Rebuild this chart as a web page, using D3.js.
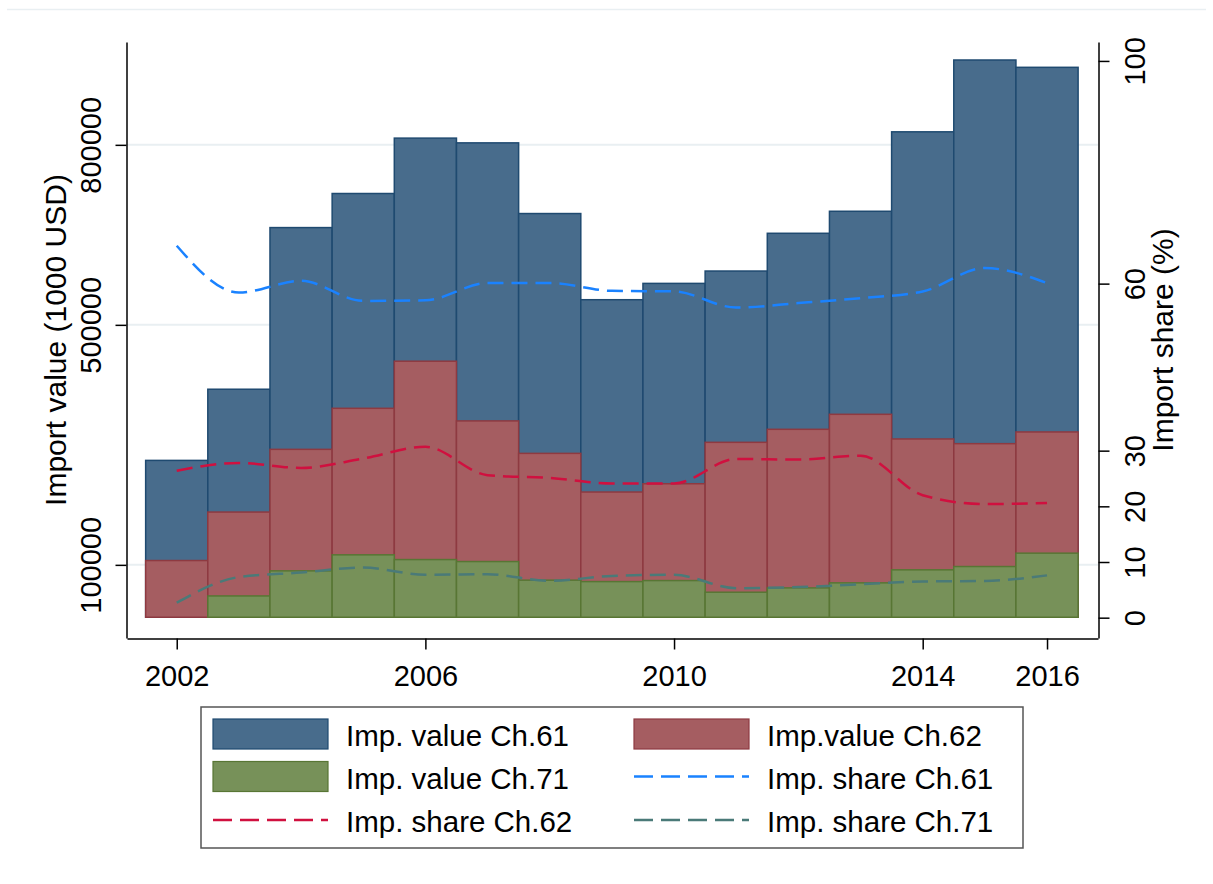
<!DOCTYPE html>
<html>
<head>
<meta charset="utf-8">
<script src="https://cdn.jsdelivr.net/npm/d3@7"></script>
<style>
  body { margin: 0; background: #ffffff; }
  svg text { font-family: "Liberation Sans", Arial, sans-serif; fill: #000000; }
</style>
</head>
<body>
<div id="chart"></div>
<script>

// Chart data
var years = [2002, 2003, 2004, 2005, 2006, 2007, 2008, 2009, 2010, 2011, 2012, 2013, 2014, 2015, 2016];

// Import values (1000 USD)
var valueCh61 = [274100, 392700, 662100, 718900, 811200, 803300, 685500, 541900, 569100, 589700, 652600, 689300, 821700, 941400, 929200];
var valueCh62 = [107200, 188000, 292500, 360900, 439400, 339900, 285800, 221400, 235200, 304200, 325900, 350900, 309800, 302000, 321500];
var valueCh71 = [11000, 48200, 90000, 116700, 108800, 105500, 74500, 72100, 73800, 54400, 61600, 70000, 91700, 97200, 119500];

// Import shares (%)
var shareCh61 = [66.8, 58.4, 60.5, 56.9, 57.0, 60.1, 60.1, 58.7, 58.6, 55.7, 56.5, 57.4, 58.6, 62.8, 60.1];
var shareCh62 = [26.4, 27.8, 26.9, 28.6, 30.7, 25.6, 25.1, 24.1, 24.1, 28.5, 28.4, 29.1, 22.0, 20.4, 20.6];
var shareCh71 = [2.7, 7.3, 8.1, 9.0, 7.7, 7.8, 6.6, 7.5, 7.7, 5.3, 5.5, 6.0, 6.5, 6.6, 7.6];

// Tick values
var yearTicks = [2002, 2006, 2010, 2014, 2016];
var valueTicks = [100000, 500000, 800000];
var shareTicks = [0, 10, 20, 30, 60, 100];

// Legend labels
var legendLabels = ["Imp. value Ch.61", "Imp.value Ch.62", "Imp. value Ch.71",
                    "Imp. share Ch.61", "Imp. share Ch.62", "Imp. share Ch.71"];

// Dimensions and settings
var width = 1213;
var height = 884;
var plotLeft = 127;
var plotRight = 1098;
var plotTop = 42;
var plotBottom = 638;
var barBase = 12700;

// Colors
var barFill = ["#486c8c", "#a55d61", "#779159"];
var barStroke = ["#1f4a70", "#8e3a41", "#587634"];
var lineColor = ["#1a82ff", "#d0103f", "#4a7a78"];
var gridColor = "#e9eff2";

// Scales
var x = d3.scaleLinear().domain([2001.2, 2016.82]).range([plotLeft, plotRight]);
var yLeft = d3.scaleLinear().domain([-21900, 971400]).range([plotBottom, plotTop]);
var yRight = d3.scaleLinear().domain([-3.65, 103.4]).range([plotBottom, plotTop]);

var svg = d3.select("#chart")
    .append("svg")
    .attr("width", width)
    .attr("height", height);

// Faint outer rule at the top
svg.append("line")
    .attr("x1", 7).attr("x2", 1206)
    .attr("y1", 9.5).attr("y2", 9.5)
    .attr("stroke", gridColor)
    .attr("stroke-width", 1.5);

// Gridlines behind the bars
svg.selectAll(".grid")
    .data(valueTicks)
    .enter()
    .append("line")
    .attr("class", "grid")
    .attr("x1", plotLeft)
    .attr("x2", plotRight)
    .attr("y1", function(d) { return yLeft(d); })
    .attr("y2", function(d) { return yLeft(d); })
    .attr("stroke", gridColor)
    .attr("stroke-width", 2);

// Overlaid bars, tallest first
var barSeries = [valueCh61, valueCh62, valueCh71];
var barWidth = x(2003) - x(2002);

barSeries.forEach(function(series, i) {
    svg.append("g")
        .selectAll("rect")
        .data(series)
        .enter()
        .append("rect")
        .attr("x", function(d, j) { return x(years[j]) - barWidth / 2; })
        .attr("width", barWidth)
        .attr("y", function(d) { return yLeft(Math.max(d, barBase)); })
        .attr("height", function(d) { return yLeft(barBase) - yLeft(Math.max(d, barBase)); })
        .attr("fill", barFill[i])
        .attr("stroke", barStroke[i])
        .attr("stroke-width", 1.5);
});

// Share lines on the right axis
var line = d3.line()
    .x(function(d, j) { return x(years[j]); })
    .y(function(d) { return yRight(d); })
    .curve(d3.curveMonotoneX);

[shareCh61, shareCh62, shareCh71].forEach(function(series, i) {
    svg.append("path")
        .datum(series)
        .attr("d", line)
        .attr("fill", "none")
        .attr("stroke", lineColor[i])
        .attr("stroke-width", 2.5)
        .attr("stroke-dasharray", "16,8");
});

// Left axis
var leftAxis = svg.append("g")
    .attr("transform", "translate(" + (plotLeft - 0.5) + ",0)")
    .call(d3.axisLeft(yLeft).tickValues(valueTicks).tickSize(11).tickSizeOuter(0).tickFormat(d3.format("d")));

leftAxis.selectAll("text")
    .attr("x", null)
    .attr("dy", null)
    .attr("text-anchor", "middle")
    .attr("transform", "translate(-26,0) rotate(-90)")
    .style("font-size", "29px");

// Right axis
var rightAxis = svg.append("g")
    .attr("transform", "translate(" + (plotRight + 0.5) + ",0)")
    .call(d3.axisRight(yRight).tickValues(shareTicks).tickSize(11).tickSizeOuter(0));

rightAxis.selectAll("text")
    .attr("x", null)
    .attr("dy", null)
    .attr("text-anchor", "middle")
    .attr("transform", "translate(46,0) rotate(-90)")
    .style("font-size", "29px");

// Bottom axis
var bottomAxis = svg.append("g")
    .attr("transform", "translate(0," + (plotBottom + 0.5) + ")")
    .call(d3.axisBottom(x).tickValues(yearTicks).tickSize(11).tickSizeOuter(0).tickFormat(d3.format("d")));

bottomAxis.selectAll("text")
    .attr("y", null)
    .attr("dy", null)
    .attr("transform", "translate(0,47)")
    .style("font-size", "29px");

// Shared axis styling
svg.selectAll(".domain, .tick line")
    .attr("stroke", "#000000")
    .attr("stroke-width", 1.5);
svg.selectAll(".tick text").attr("fill", "#000000");

// Axis titles
svg.append("text")
    .attr("transform", "translate(66," + ((plotTop + plotBottom) / 2) + ") rotate(-90)")
    .attr("text-anchor", "middle")
    .style("font-size", "30px")
    .text("Import value (1000 USD)");

svg.append("text")
    .attr("transform", "translate(1173," + ((plotTop + plotBottom) / 2) + ") rotate(-90)")
    .attr("text-anchor", "middle")
    .style("font-size", "30px")
    .text("Import share (%)");

// Legend
var legend = svg.append("g");

legend.append("rect")
    .attr("x", 201)
    .attr("y", 707)
    .attr("width", 822)
    .attr("height", 141)
    .attr("fill", "#ffffff")
    .attr("stroke", "#555555")
    .attr("stroke-width", 1.5);

// Order of the legend entries, row by row
var legendItems = [
    {label: legendLabels[0], type: "bar", k: 0},
    {label: legendLabels[1], type: "bar", k: 1},
    {label: legendLabels[2], type: "bar", k: 2},
    {label: legendLabels[3], type: "line", k: 0},
    {label: legendLabels[4], type: "line", k: 1},
    {label: legendLabels[5], type: "line", k: 2}
];

var colX = [213, 634];
var rowY = [734, 776.5, 820];

legendItems.forEach(function(item, i) {
    var cx = colX[i % 2];
    var cy = rowY[Math.floor(i / 2)];

    if (item.type === "bar") {
        legend.append("rect")
            .attr("x", cx)
            .attr("y", cy - 15)
            .attr("width", 115)
            .attr("height", 30)
            .attr("fill", barFill[item.k])
            .attr("stroke", barStroke[item.k])
            .attr("stroke-width", 1.2);
    } else {
        legend.append("line")
            .attr("x1", cx)
            .attr("x2", cx + 115)
            .attr("y1", cy)
            .attr("y2", cy)
            .attr("stroke", lineColor[item.k])
            .attr("stroke-width", 2.5)
            .attr("stroke-dasharray", "19,8");
    }

    legend.append("text")
        .attr("x", cx + 133)
        .attr("y", cy + 12)
        .style("font-size", "29.5px")
        .text(item.label);
});

</script>
</body>
</html>
